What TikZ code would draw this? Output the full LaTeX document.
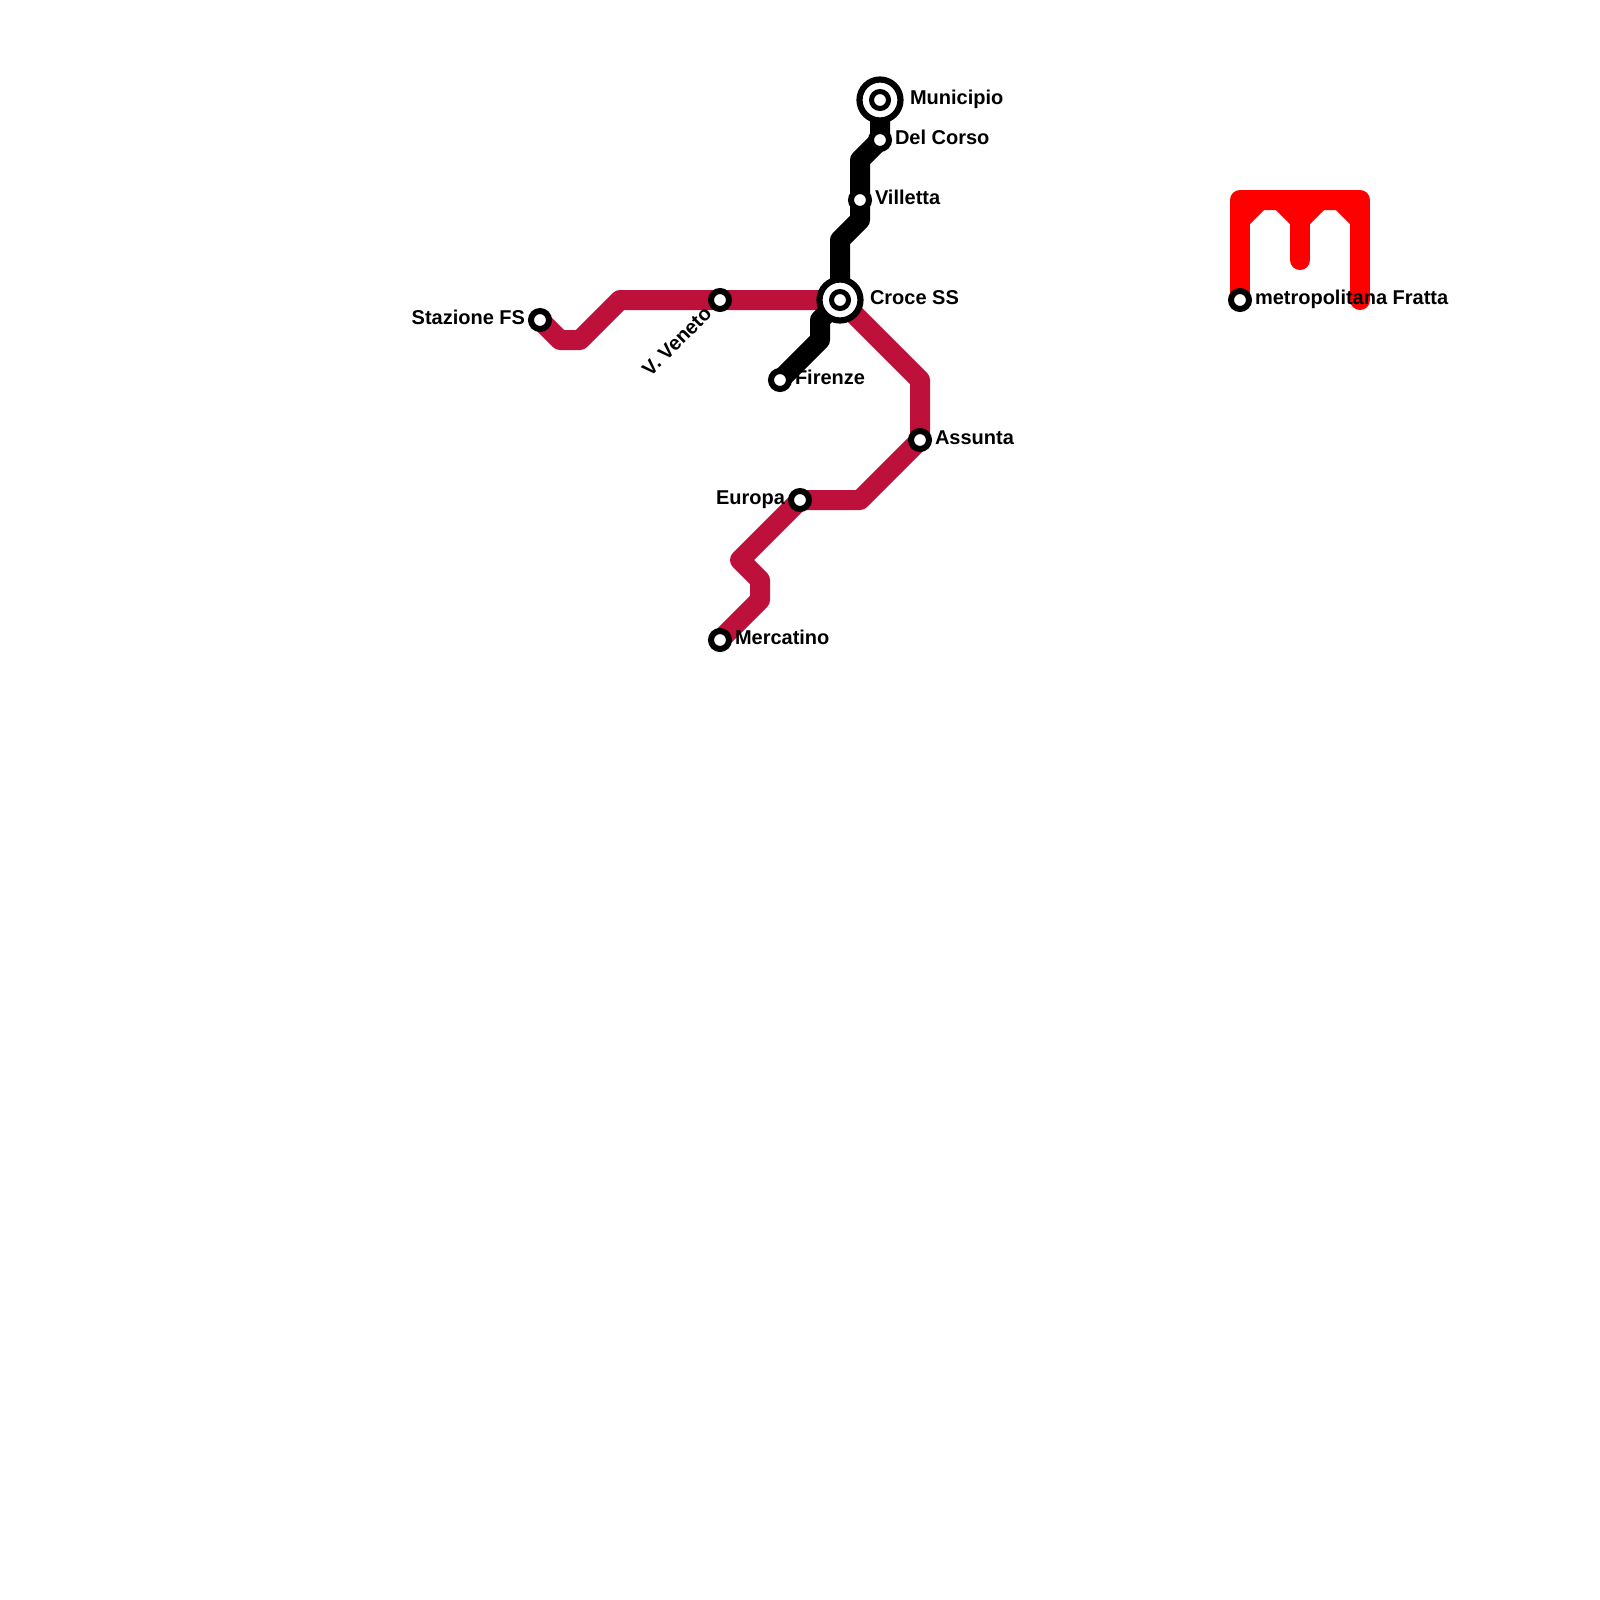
\documentclass[tikz,border=0pt]{standalone}
\usepackage{fontspec}
\setmainfont{Liberation Sans}
\definecolor{lineburgundy}{RGB}{189,16,58}
\definecolor{linered}{RGB}{255,0,0}

\begin{document}
\begin{tikzpicture}[
  x=0.25cm,y=-0.25cm,
  every node/.style={font=\fontsize{7.11}{8.5}\selectfont\bfseries},
  metroline/.style={line width=0.25cm,line join=round,line cap=round},
  stopring/.style={draw=black,fill=white,circle,line width=0.075cm,minimum size=0.225cm,inner sep=0pt,outer sep=0pt},
  hubring/.style={draw=black,fill=white,circle,line width=0.0775cm,minimum size=0.5125cm,inner sep=0pt,outer sep=0pt},
  hubcore/.style={draw=black,fill=white,circle,line width=0.0625cm,minimum size=0.2125cm,inner sep=0pt,outer sep=0pt},
  stoplabel/.style={anchor=base west,inner sep=0pt,outer sep=0pt},
  stoplabelleft/.style={anchor=base east,inner sep=0pt,outer sep=0pt},
]
  \useasboundingbox (0,0) rectangle (80,80);

  % Stations
  \coordinate (municipio) at (44,5);
  \coordinate (delcorso) at (44,7);
  \coordinate (villetta) at (43,10);
  \coordinate (croce) at (42,15);
  \coordinate (firenze) at (39,19);
  \coordinate (stazione) at (27,16);
  \coordinate (veneto) at (36,15);
  \coordinate (assunta) at (46,22);
  \coordinate (europa) at (40,25);
  \coordinate (mercatino) at (36,32);
  \coordinate (fratta) at (62,15);

  % Burgundy line
  \draw[metroline,lineburgundy] (stazione) -- (28,17) -- (29,17) -- (31,15) -- (veneto) -- (croce)
    -- (46,19) -- (assunta) -- (43,25) -- (europa) -- (37,28) -- (38,29) -- (38,30) -- (mercatino);

  % Black line
  \draw[metroline,black] (municipio) -- (delcorso) -- (43,8) -- (villetta) -- (43,11) -- (42,12)
    -- (croce) -- (41,16) -- (41,17) -- (firenze);

  % Red line
  \coordinate (frattaend) at (68,15);
  \coordinate (frattastem) at (65,13);
  \draw[metroline,linered] (fratta) -- (62,10) -- (68,10) -- (frattaend);
  \draw[metroline,linered] (65,10) -- (frattastem);
  \draw[metroline,linered] (62,11) -- (63,10) -- (64,10) -- (65,11) -- (66,10) -- (67,10) -- (68,11);

  % Station rings
  \node[hubring] (municipiohub) at (municipio) {};
  \node[hubring] (crocehub) at (croce) {};
  \node[hubcore] (municipiostop) at (municipio) {};
  \node[hubcore] (crocestop) at (croce) {};
  \node[stopring] (delcorsostop) at (delcorso) {};
  \node[stopring] (villettastop) at (villetta) {};
  \node[stopring] (firenzestop) at (firenze) {};
  \node[stopring] (stazionestop) at (stazione) {};
  \node[stopring] (venetostop) at (veneto) {};
  \node[stopring] (assuntastop) at (assunta) {};
  \node[stopring] (europastop) at (europa) {};
  \node[stopring] (mercatinostop) at (mercatino) {};
  \node[stopring] (frattastop) at (fratta) {};

  % Labels
  \node[stoplabel] (municipiotext) at (45.5,5.245) {Municipio};
  \node[stoplabel] (delcorsotext) at (44.75,7.245) {Del Corso};
  \node[stoplabel] (villettatext) at (43.75,10.245) {Villetta};
  \node[stoplabel] (crocetext) at (43.5,15.245) {Croce SS};
  \node[stoplabel] (firenzetext) at (39.75,19.245) {Firenze};
  \node[stoplabel] (assuntatext) at (46.75,22.245) {Assunta};
  \node[stoplabel] (mercatinotext) at (36.75,32.245) {Mercatino};
  \node[stoplabel] (frattatext) at (62.75,15.245) {metropolitana Fratta};
  \node[stoplabelleft] (stazionetext) at (26.25,16.245) {Stazione FS};
  \node[stoplabelleft] (europatext) at (39.25,25.245) {Europa};
  \node[anchor=east,inner sep=0pt,rotate=45] (venetotext) at (35.42,15.48) {V. Veneto};
\end{tikzpicture}
\end{document}
